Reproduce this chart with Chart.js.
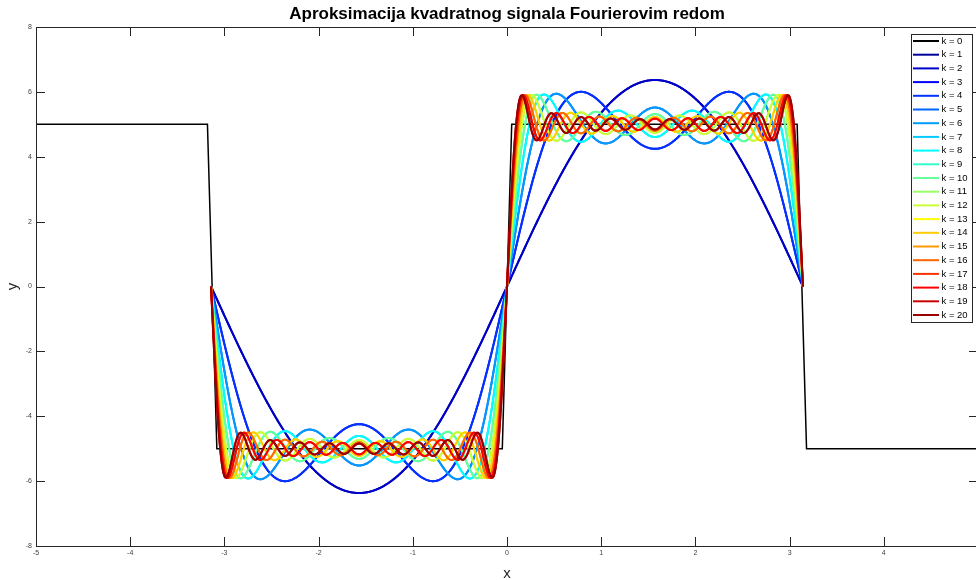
<!DOCTYPE html>
<html>
<head>
<meta charset="utf-8">
<script src="https://cdn.jsdelivr.net/npm/chart.js@4/dist/chart.umd.min.js"></script>
<style>
  html, body { margin: 0; padding: 0; overflow: hidden; background: #fff; }
  #wrap { width: 1014px; height: 580px; }
</style>
</head>
<body>
<div id="wrap"><canvas id="chart-fourier" width="1014" height="580"></canvas></div>
<script>
// --- data ---
const amplitude = 5;                       // square wave level (+/-5)
const kValues   = [0, 1, 2, 3, 4, 5, 6, 7, 8, 9, 10, 11, 12, 13, 14, 15, 16, 17, 18, 19, 20];
const squareX   = [-5, -3.18, -3.08, -0.05, 0.05, 3.08, 3.18, 5];
const squareY   = [ 5,  5,    -5,    -5,    5,    5,    -5,   -5];
const curveSamples = 629;                  // x = -pi : 0.01 : pi
const xTicks = [-5, -4, -3, -2, -1, 0, 1, 2, 3, 4, 5];
const yTicks = [-8, -6, -4, -2, 0, 2, 4, 6, 8];
const colors = ['#000000',
  '#000099', '#0000cc', '#0000ff', '#0033ff', '#0066ff', '#0099ff', '#00ccff', '#00ffff', '#33ffcc', '#66ff99',
  '#99ff66', '#ccff33', '#ffff00', '#ffcc00', '#ff9900', '#ff6600', '#ff3300', '#ff0000', '#cc0000', '#990000'];

// partial Fourier sum of the square wave, terms n = 1..k (even terms are zero)
function partialSum(k) {
  const pts = [];
  for (let i = 0; i < curveSamples; i++) {
    const x = -Math.PI + i * (2 * Math.PI) / (curveSamples - 1);
    let s = 0;
    for (let n = 1; n <= k; n += 2) s += Math.sin(n * x) / n;
    pts.push({ x, y: 4 * amplitude / Math.PI * s });
  }
  return pts;
}

const datasets = kValues.map(k => ({
  label: 'k = ' + k,
  data: k === 0 ? squareX.map((x, i) => ({ x, y: squareY[i] })) : partialSum(k),
  borderColor: colors[k],
  backgroundColor: colors[k],
  borderWidth: k === 0 ? 1.5 : 2,
  pointRadius: 0,
  showLine: true,
  tension: 0.001,
  order: kValues.length - k
}));

// MATLAB-like box with inward ticks
const axesBox = {
  id: 'axesBox',
  afterDatasetsDraw(chart) {
    const { ctx, chartArea: a, scales: { x, y } } = chart;
    ctx.save();
    ctx.strokeStyle = '#262626';
    ctx.lineWidth = 1;
    ctx.strokeRect(Math.round(a.left) + 0.5, Math.round(a.top) + 0.5, Math.round(a.width), Math.round(a.height));
    ctx.beginPath();
    xTicks.forEach(v => {
      const px = Math.round(x.getPixelForValue(v)) + 0.5;
      ctx.moveTo(px, a.bottom); ctx.lineTo(px, a.bottom - 9);
      ctx.moveTo(px, a.top);    ctx.lineTo(px, a.top + 9);
    });
    yTicks.forEach(v => {
      const py = Math.round(y.getPixelForValue(v)) + 0.5;
      ctx.moveTo(a.left, py);  ctx.lineTo(a.left + 9, py);
      ctx.moveTo(a.right, py); ctx.lineTo(a.right - 9, py);
    });
    ctx.stroke();
    ctx.restore();
  }
};

// legend inside the axes, top-right
const boxLegend = {
  id: 'boxLegend',
  afterDraw(chart) {
    const { ctx } = chart;
    const left = 911, top = 34, w = 61, h = 288, rowH = 13.7;
    ctx.save();
    ctx.fillStyle = '#fff';
    ctx.fillRect(left, top, w, h);
    ctx.strokeStyle = '#262626';
    ctx.lineWidth = 1;
    ctx.strokeRect(left + 0.5, top + 0.5, w, h);
    ctx.font = "9.5px 'Liberation Sans', Arial, sans-serif";
    ctx.textBaseline = 'middle';
    ctx.fillStyle = '#000';
    chart.data.datasets.forEach((ds, i) => {
      const yy = top + 7 + i * rowH;
      ctx.strokeStyle = ds.borderColor;
      ctx.lineWidth = 2;
      ctx.beginPath();
      ctx.moveTo(left + 2, yy); ctx.lineTo(left + 28, yy);
      ctx.stroke();
      ctx.fillText(ds.label, left + 30.5, yy);
    });
    ctx.restore();
  }
};

const FONT = "'Liberation Sans', Arial, sans-serif";

new Chart(document.getElementById('chart-fourier').getContext('2d'), {
  type: 'scatter',
  data: { datasets },
  options: {
    responsive: false,
    animation: false,
    parsing: false,
    layout: { padding: 0 },
    plugins: {
      legend: { display: false },
      tooltip: { enabled: false },
      title: {
        display: true,
        text: 'Aproksimacija kvadratnog signala Fourierovim redom',
        color: '#000',
        font: { family: FONT, size: 17, weight: 'bold', lineHeight: 1.2 },
        padding: { top: 4, bottom: 2.6 }
      }
    },
    scales: {
      x: {
        type: 'linear', min: -5, max: 5,
        afterFit: s => { s.height = 34; },
        grid: { display: false, drawTicks: false },
        border: { display: false },
        ticks: { stepSize: 1, padding: 3, color: '#404040', font: { family: FONT, size: 7 } },
        title: { display: true, text: 'x', color: '#262626', padding: { top: 0, bottom: -3 },
                 font: { family: FONT, size: 15 } }
      },
      y: {
        type: 'linear', min: -8, max: 8,
        afterFit: s => { s.width = 36; },
        grid: { display: false, drawTicks: false },
        border: { display: false },
        ticks: { stepSize: 2, padding: 4, color: '#404040', font: { family: FONT, size: 7 } },
        title: { display: true, text: 'y', color: '#262626', padding: { top: 3.6, bottom: 0 },
                 font: { family: FONT, size: 15 } }
      },
      yRight: {
        type: 'linear', position: 'right', min: -8, max: 8,
        afterFit: s => { s.width = 36; },
        grid: { display: false, drawTicks: false },
        border: { display: false },
        ticks: { display: false }
      }
    }
  },
  plugins: [axesBox, boxLegend]
});
</script>
</body>
</html>
